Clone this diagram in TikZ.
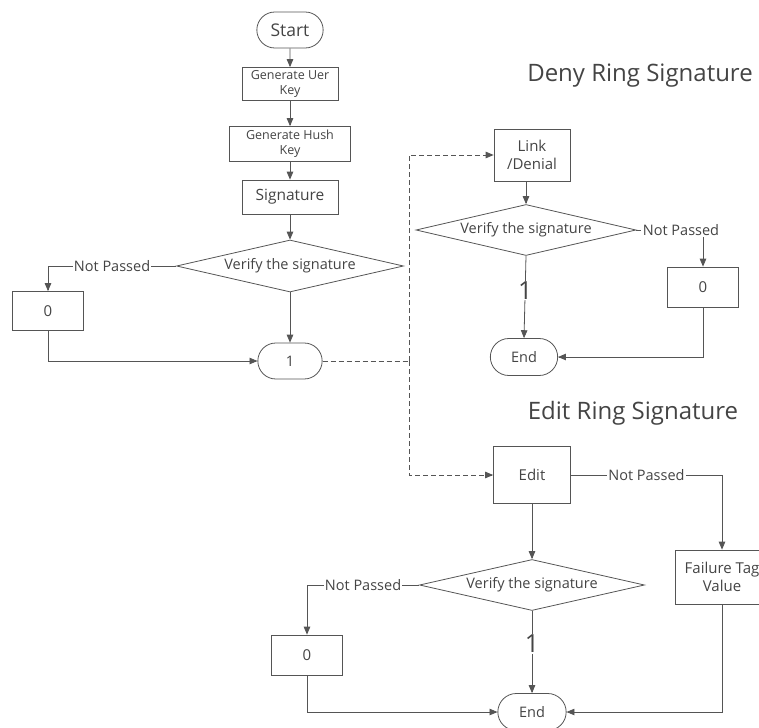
\documentclass[tikz,border=0pt]{standalone}
\usepackage{fontspec}
\setmainfont{Open Sans}
\usetikzlibrary{shapes.geometric,shapes.misc,arrows,positioning}
\definecolor{linegray}{HTML}{555555}
\definecolor{textgray}{HTML}{444444}

\begin{document}
\begin{tikzpicture}[x=1pt,y=-1pt,
		line width=0.8pt,draw=linegray,text=textgray,>=triangle 45,
		box/.style={draw=linegray,rectangle,align=center,inner sep=1pt,font=\fontsize{15}{18.5}\selectfont},
		termbox/.style={draw=linegray,rounded rectangle,minimum width=73pt,minimum height=36pt,font=\fontsize{14.5}{17}\selectfont},
		decision/.style={draw=linegray,diamond,aspect=4.4,inner sep=0pt,minimum width=227pt,minimum height=52pt,font=\fontsize{14.5}{17}\selectfont},
		lbl/.style={fill=white,inner sep=1pt,font=\fontsize{14.5}{17}\selectfont},
		onelbl/.style={fill=white,inner sep=1pt,font=\fontsize{25}{27}\selectfont},
		title/.style={font=\fontsize{24}{27}\selectfont},
		dashline/.style={dash pattern=on 5pt off 3pt}]
		\useasboundingbox (0,0) rectangle (759,727);
		\clip (0,0) rectangle (759,727);
		% sign ring signature
		\node[termbox,font=\fontsize{17.5}{20}\selectfont] (start) at (290,30) {Start};
		\node[box,minimum width=96pt,minimum height=33pt,font=\fontsize{12.5}{15}\selectfont] (uerkey) at (290,84) {Generate Uer\\Key};
		\node[box,minimum width=121pt,minimum height=35pt,font=\fontsize{12.5}{15}\selectfont] (hushkey) at (290,144) {Generate Hush\\Key};
		\node[box,minimum width=96pt,minimum height=34pt,font=\fontsize{15.5}{17}\selectfont] (sign) at (290,197) {Signature};
		\node[decision] (verA) at (290,266) {Verify the signature};
		\node[box,minimum width=71pt,minimum height=39pt] (zeroA) at (48,311) {0};
		\node[termbox,minimum width=71pt] (oneA) at (290,361) {1};
		\draw[->] (start) -- (uerkey);
		\draw[->] (uerkey) -- (hushkey);
		\draw[->] (hushkey) -- (sign);
		\draw[->] (sign) -- (verA);
		\draw[->] (verA.west) -| node[lbl,pos=0.25] {Not Passed} (zeroA.north);
		\draw[->] (verA.south) -- (oneA.north);
		\draw[->] (zeroA.south) |- (oneA.west);
		% dashed branches
		\coordinate (split) at (409,361);
		\draw[dashline] (oneA.east) -- (split);
		% deny ring signature
		\node[title] (denytitle) at (640,76) {Deny Ring Signature};
		\node[box,minimum width=76pt,minimum height=52pt] (link) at (532,155) {Link\\/Denial};
		\node[decision,minimum width=220pt,minimum height=51pt] (verB) at (526,230) {Verify the signature};
		\node[lbl] (npB) at (681,230) {Not Passed};
		\node[box,minimum width=71pt,minimum height=40pt] (zeroB) at (703,287) {0};
		\node[termbox,minimum width=74pt,minimum height=37pt] (endB) at (524,357) {End};
		\draw[dashline,->] (split) |- (link.west);
		\draw[->] (link.south -| verB.north) -- (verB.north);
		\draw (verB.east) -- (npB.west);
		\draw[->] (npB.south -| zeroB.north) -- (zeroB.north);
		\draw[->] (verB.south) -- node[onelbl,pos=0.42] {1} (endB.north);
		\draw[->] (zeroB.south) |- (endB.east);
		% edit ring signature
		\node[title] (edittitle) at (633,413) {Edit Ring Signature};
		\node[box,minimum width=77pt,minimum height=57pt] (edit) at (532,475) {Edit};
		\node[box,minimum width=94pt,minimum height=54pt] (fail) at (722,577) {Failure Tag\\Value};
		\node[decision,minimum width=225pt,minimum height=51pt] (verC) at (532,585) {Verify the signature};
		\node[box,minimum width=71pt,minimum height=40pt] (zeroC) at (307,655) {0};
		\node[termbox,minimum width=75pt,minimum height=37pt] (endC) at (532,712) {End};
		\draw[dashline,->] (split) |- (edit.west);
		\draw[->] (edit.east) -| node[lbl,pos=0.25] {Not Passed} (fail.north);
		\draw[->] (edit.south) -- (verC.north);
		\draw[->] (verC.west) -| node[lbl,pos=0.25] {Not Passed} (zeroC.north);
		\draw[->] (verC.south) -- node[onelbl,pos=0.4] {1} (endC.north);
		\draw[->] (zeroC.south) |- (endC.west);
		\draw[->] (fail.south) |- (endC.east);
\end{tikzpicture}
\end{document}
